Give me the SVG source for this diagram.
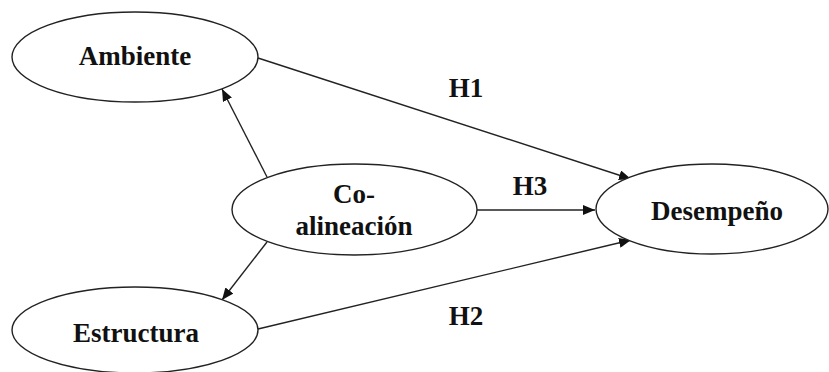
<svg xmlns="http://www.w3.org/2000/svg" width="829" height="372" viewBox="0 0 829 372">
<style>
.node ellipse{fill:#fff;stroke:#222;stroke-width:1.4}
text{font-family:"Liberation Serif","Times New Roman",serif;font-weight:bold;font-size:27px;fill:#111;text-anchor:middle}
.edges line{stroke:#222;stroke-width:1.4;marker-end:url(#ah)}
</style>
<defs>
<marker id="ah" viewBox="0 0 12 10" refX="12" refY="5" markerWidth="12" markerHeight="10" markerUnits="userSpaceOnUse" orient="auto">
<path d="M0,0 L12,5 L0,10 z" fill="#111"/>
</marker>
</defs>
<rect width="829" height="372" fill="#fff"/>
<g class="edges">
<line x1="258" y1="58" x2="631" y2="179"/>
<line x1="258" y1="329" x2="631" y2="240"/>
<line x1="477" y1="210" x2="595" y2="210"/>
<line x1="267" y1="177" x2="222" y2="89"/>
<line x1="267" y1="242" x2="222" y2="300"/>
</g>
<g class="labels">
<text x="466" y="97">H1</text>
<text x="466" y="325">H2</text>
<text x="530" y="195">H3</text>
</g>
<g id="ambiente" class="node">
<ellipse cx="135" cy="57" rx="123" ry="45"/>
<text x="135" y="65">Ambiente</text>
</g>
<g id="coalineacion" class="node">
<ellipse cx="354.5" cy="209.5" rx="122.5" ry="45.5"/>
<text x="354" y="203">Co-</text>
<text x="354" y="235">alineación</text>
</g>
<g id="estructura" class="node">
<ellipse cx="135" cy="330" rx="123" ry="43"/>
<text x="136" y="342">Estructura</text>
</g>
<g id="desempeno" class="node">
<ellipse cx="712" cy="209" rx="116" ry="45"/>
<text x="717" y="220">Desempeño</text>
</g>
</svg>
